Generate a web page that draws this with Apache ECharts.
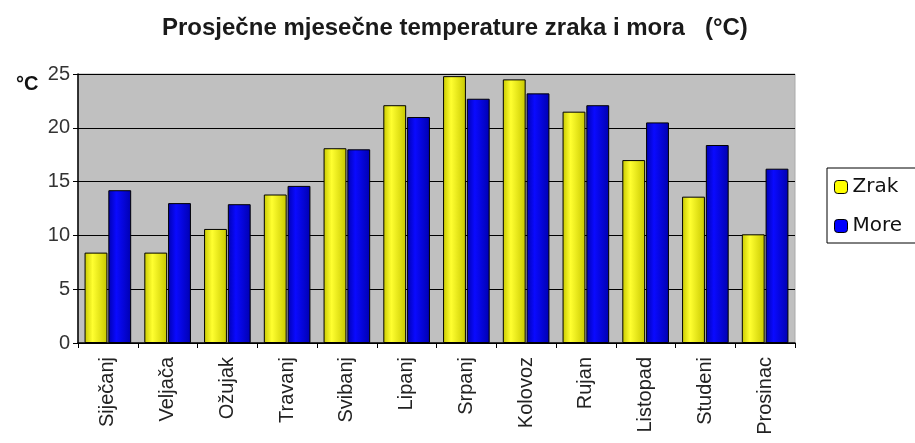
<!DOCTYPE html>
<html>
<head>
<meta charset="utf-8">
<script src="https://cdn.jsdelivr.net/npm/echarts@6/dist/echarts.min.js"></script>
<style>
  html, body { margin: 0; padding: 0; background: #fff; }
  #chart { width: 915px; height: 443px; }
</style>
</head>
<body>
<div id="chart"></div>
<script>
const months = ["Siječanj", "Veljača", "Ožujak", "Travanj", "Svibanj", "Lipanj",
  "Srpanj", "Kolovoz", "Rujan", "Listopad", "Studeni", "Prosinac"];
const zrak = [8.4, 8.4, 10.6, 13.8, 18.1, 22.1, 24.8, 24.5, 21.5, 17.0, 13.6, 10.1];
const more = [14.2, 13.0, 12.9, 14.6, 18.0, 21.0, 22.7, 23.2, 22.1, 20.5, 18.4, 16.2];
const yTicks = [0, 5, 10, 15, 20, 25];

// horizontal gradient so the bars look a bit like cylinders
function cyl(dark, light) {
  return new echarts.graphic.LinearGradient(0, 0, 1, 0, [
    { offset: 0, color: dark },
    { offset: 0.35, color: light },
    { offset: 1, color: dark }
  ]);
}

const chart = echarts.init(document.getElementById("chart"));
chart.setOption({
  animation: false,
  title: [
    {
      text: "Prosječne mjesečne temperature zraka i mora   (°C)",
      left: 157,
      top: 11,
      textStyle: { fontFamily: "Liberation Sans", fontSize: 24, fontWeight: "bold", color: "#1a1a1a" }
    },
    {
      text: "°C",
      left: 11,
      top: 69,
      textStyle: { fontFamily: "Liberation Sans", fontSize: 20, fontWeight: "bold", color: "#111" }
    }
  ],
  legend: {
    orient: "vertical",
    left: 827,
    top: 168,
    itemWidth: 13,
    itemHeight: 13,
    itemGap: 19,
    padding: [9, 20, 7, 7],
    borderColor: "#000",
    borderWidth: 1,
    backgroundColor: "#fff",
    textStyle: { fontFamily: "DejaVu Sans", fontSize: 20, color: "#111" },
    data: [
      { name: "Zrak", itemStyle: { color: "#ffff00", borderColor: "#000", borderWidth: 1 } },
      { name: "More", itemStyle: { color: "#0000ff", borderColor: "#000", borderWidth: 1 } }
    ]
  },
  grid: {
    left: 78,
    right: 120,
    top: 74,
    bottom: 100,
    show: true,
    backgroundColor: "#c0c0c0",
    borderColor: "#aaa",
    borderWidth: 1
  },
  xAxis: {
    type: "category",
    data: months,
    axisLine: { lineStyle: { color: "#000", width: 1.5 } },
    axisTick: { show: true, length: 5, lineStyle: { color: "#000" } },
    axisLabel: {
      rotate: 90,
      margin: 14,
      fontFamily: "Liberation Sans",
      fontSize: 20,
      color: "#222"
    }
  },
  yAxis: {
    type: "value",
    min: yTicks[0],
    max: yTicks[yTicks.length - 1],
    interval: 5,
    axisLine: { show: true, lineStyle: { color: "#000", width: 1.5 } },
    axisTick: { show: true, length: 5, lineStyle: { color: "#000" } },
    axisLabel: { fontFamily: "Liberation Sans", fontSize: 20, color: "#333", margin: 8 },
    splitLine: { lineStyle: { color: "#000", width: 1.2 } }
  },
  series: [
    {
      name: "Zrak",
      type: "bar",
      data: zrak,
      barGap: "4%",
      barCategoryGap: "22%",
      itemStyle: { color: cyl("#c8c800", "#ffff30"), borderColor: "#000", borderWidth: 1 }
    },
    {
      name: "More",
      type: "bar",
      data: more,
      itemStyle: { color: cyl("#0000b0", "#0a0aff"), borderColor: "#000", borderWidth: 1 }
    }
  ]
});
</script>
</body>
</html>
